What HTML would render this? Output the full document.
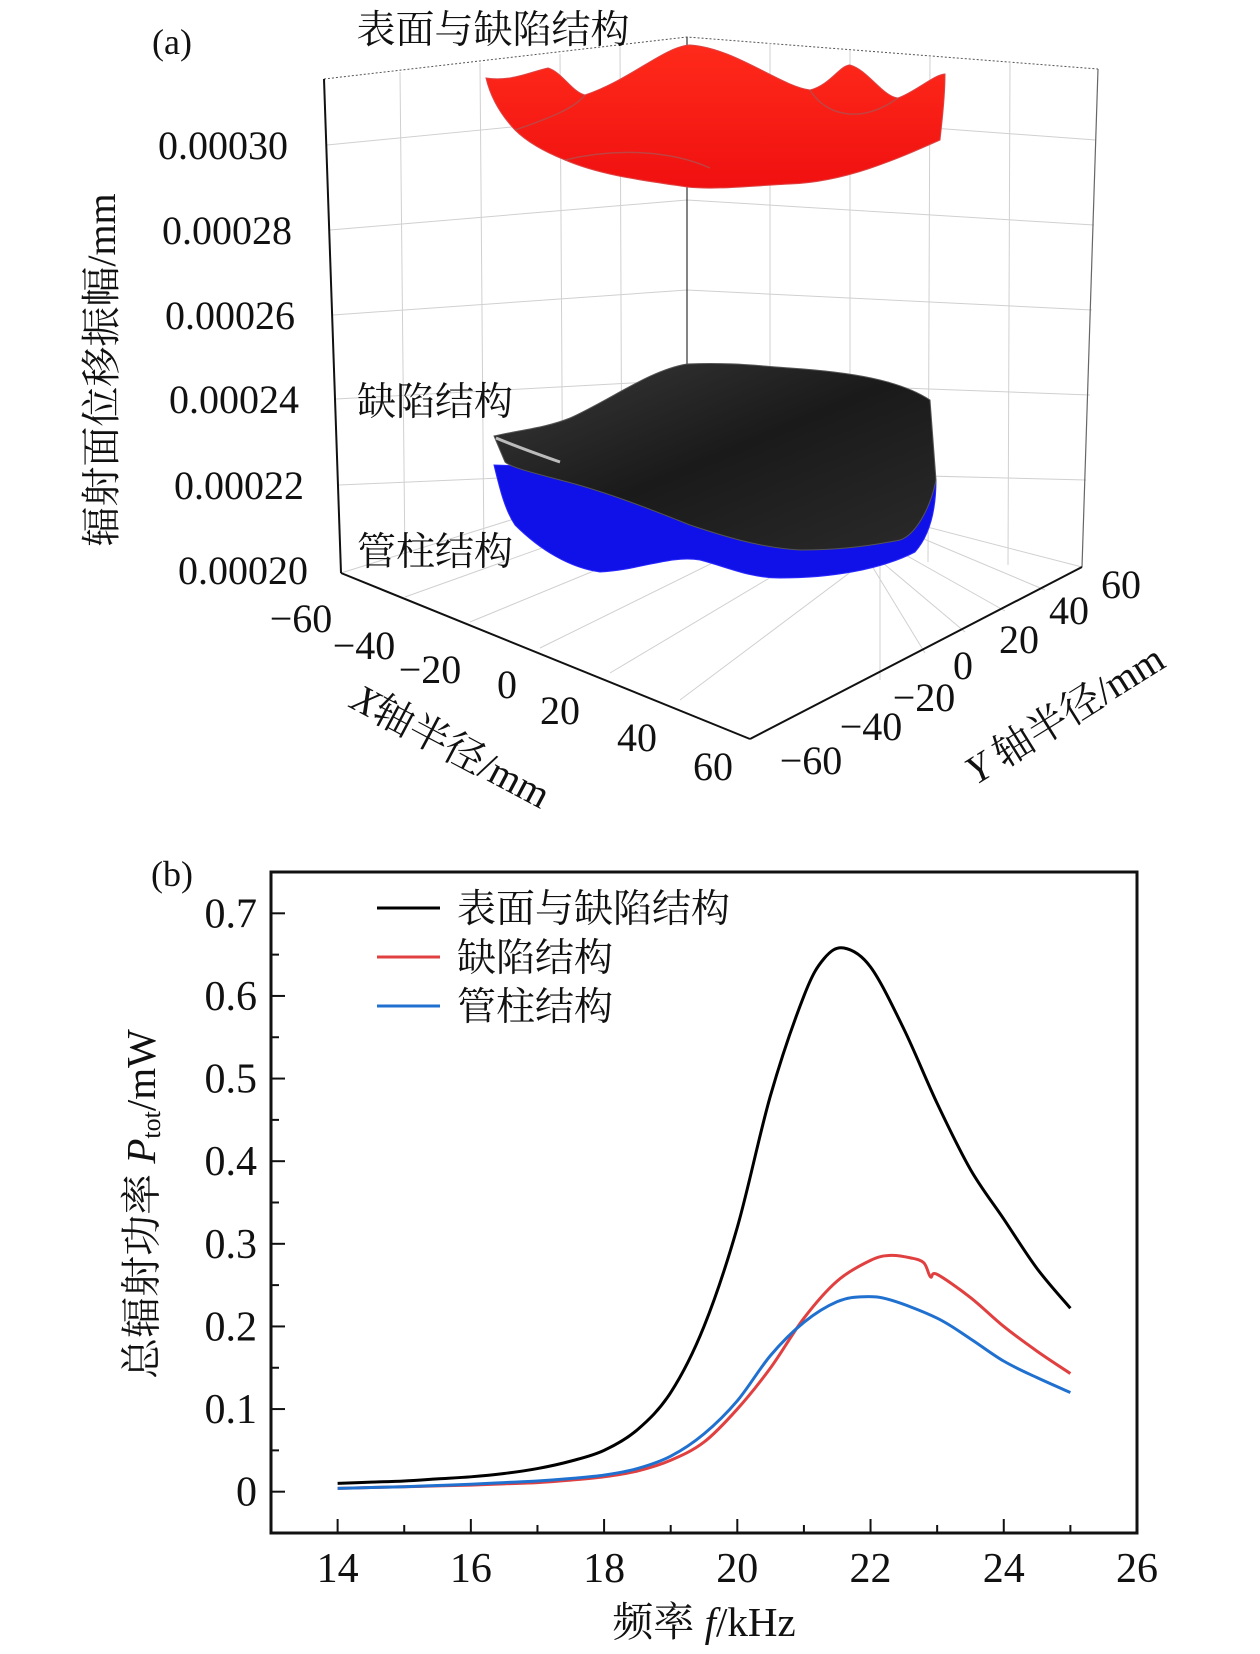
<!DOCTYPE html>
<html><head><meta charset="utf-8">
<style>
html,body{margin:0;padding:0;background:#fff;}
svg{display:block;}
text{font-family:"Liberation Serif","Noto Serif CJK SC",serif;fill:#111;}
.cn{font-family:"Liberation Serif","Noto Serif CJK SC","Noto Sans CJK SC",serif;}
</style></head>
<body>
<svg id="fig" width="1260" height="1654" viewBox="0 0 1260 1654" xmlns="http://www.w3.org/2000/svg">
<defs>
<linearGradient id="gRed" x1="0" y1="0" x2="0" y2="1"><stop offset="0" stop-color="#ff2a1a"/><stop offset="1" stop-color="#f01010"/></linearGradient>
<linearGradient id="gBlk" x1="0" y1="0" x2="1" y2="1"><stop offset="0" stop-color="#3a3a3a"/><stop offset="0.5" stop-color="#1a1a1a"/><stop offset="1" stop-color="#2a2a2a"/></linearGradient>
</defs>
<g id="panel-a">
  <text x="172" y="54" font-size="36" text-anchor="middle">(a)</text>
  <g stroke="#d0d0d0" stroke-width="1" fill="none">
    <path d="M324 79 L687 37 L1098 69" stroke="#555" stroke-dasharray="2,2"/>
    <path d="M327 145 L687 110 L1096 140"/>
    <path d="M330 230 L687 200 L1094 225"/>
    <path d="M333 315 L687 290 L1092 310"/>
    <path d="M336 399 L687 380 L1090 395"/>
    <path d="M339 485 L687 470 L1086 480"/>
    <path d="M400 72 L405 565 M480 63 L484 560 M560 54 L563 555 M620 45 L622 552"/>
    <path d="M770 43 L770 555 M850 50 L850 558 M930 56 L928 562 M1010 62 L1008 565"/>
    <path d="M405 597 L760 470 L1045 590"/>
    <path d="M470 622 L790 490 L1005 611"/>
    <path d="M540 648 L820 510 L965 632"/>
    <path d="M610 673 L850 530 L925 653"/>
    <path d="M680 700 L880 550 L880 680"/>
    <path d="M341 573 L687 465 L1082 567"/>
  </g>
  <line x1="687" y1="37" x2="687" y2="370" stroke="#333" stroke-width="1.2"/>
  <line x1="1098" y1="69" x2="1082" y2="567" stroke="#666" stroke-width="1.2"/>
  <line x1="324" y1="79" x2="341" y2="573" stroke="#111" stroke-width="2"/>
  <line x1="341" y1="573" x2="750" y2="739" stroke="#111" stroke-width="2"/>
  <line x1="750" y1="739" x2="1082" y2="567" stroke="#111" stroke-width="2"/>
  <g font-size="40" text-anchor="middle">
    <text x="223" y="159">0.00030</text>
    <text x="227" y="244">0.00028</text>
    <text x="230" y="329">0.00026</text>
    <text x="234" y="413">0.00024</text>
    <text x="239" y="499">0.00022</text>
    <text x="243" y="584">0.00020</text>
    <text x="301" y="632">−60</text>
    <text x="364" y="659">−40</text>
    <text x="430" y="683">−20</text>
    <text x="507" y="698">0</text>
    <text x="560" y="724">20</text>
    <text x="637" y="751">40</text>
    <text x="713" y="780">60</text>
    <text x="811" y="774">−60</text>
    <text x="871" y="740">−40</text>
    <text x="924" y="711">−20</text>
    <text x="963" y="679">0</text>
    <text x="1019" y="653">20</text>
    <text x="1069" y="624">40</text>
    <text x="1121" y="598">60</text>
  </g>
  <text class="cn" font-size="40" text-anchor="middle" transform="translate(449,750) rotate(28)" dominant-baseline="middle"><tspan font-style="italic">X</tspan>轴半径/mm</text>
  <text class="cn" font-size="40" text-anchor="middle" transform="translate(1067,718) rotate(-32)" dominant-baseline="middle"><tspan font-style="italic">Y</tspan> 轴半径/mm</text>
  <text class="cn" font-size="40" text-anchor="middle" transform="translate(106,370) rotate(-90)" dominant-baseline="middle">辐射面位移振幅/mm</text>
  <path d="M494 465 C500 490 505 510 515 525 C540 550 570 568 600 572 C640 570 670 555 700 560 C730 568 750 578 780 578 C830 578 880 570 915 552 C930 535 936 510 936 480 Z" fill="#1010e8" stroke="#2a2aff" stroke-width="1"/>
  <path d="M494 436 C520 430 545 428 570 418 C610 400 650 370 687 364 C730 362 760 366 790 368 C850 372 900 380 930 400 L936 480 C930 510 915 535 900 540 C860 548 830 550 800 550 C760 548 720 535 690 525 C640 505 600 490 560 480 C530 472 510 467 505 462 Z" fill="url(#gBlk)" stroke="#555" stroke-width="1"/>
  <path d="M496 438 C520 448 540 455 560 462" stroke="#bbb" stroke-width="3" fill="none"/>
  <path d="M486 78 C510 82 530 72 548 68 C562 72 572 92 585 95 C630 80 665 46 690 45 C735 48 780 86 810 90 C830 85 840 65 850 65 C868 70 882 96 898 98 C915 92 935 74 945 74 C945 100 942 120 940 140 C895 160 845 182 790 184 C750 186 715 190 687 187 C640 180 600 175 565 160 C540 150 525 140 515 130 C498 112 490 95 486 78 Z" fill="url(#gRed)" stroke="#d44" stroke-width="1"/>
  <path d="M515 130 C550 118 575 108 585 95 M810 90 C825 115 860 125 898 98 M565 160 C615 148 670 150 710 168" stroke="#a55" stroke-width="1.5" fill="none" opacity="0.7"/>
  <text class="cn" x="493" y="43" font-size="39" text-anchor="middle">表面与缺陷结构</text>
  <text class="cn" x="435" y="415" font-size="39" text-anchor="middle">缺陷结构</text>
  <text class="cn" x="435" y="565" font-size="39" text-anchor="middle">管柱结构</text>
</g>
<g id="panel-b">
  <text x="172" y="886" font-size="36" text-anchor="middle">(b)</text>
  <g id="axes"></g>
  <g id="series"></g>
  <g id="legend"></g>
  <text class="cn" font-size="41" text-anchor="middle" transform="translate(146,1204) rotate(-90)" dominant-baseline="middle">总辐射功率 <tspan font-style="italic">P</tspan><tspan font-size="26" dy="8">tot</tspan><tspan dy="-8">/mW</tspan></text>
  <text class="cn" x="704" y="1636" font-size="41" text-anchor="middle">频率 <tspan font-style="italic">f</tspan>/kHz</text>
</g>
</svg>
<script>
const freqs = [14,14.5,15,15.5,16,16.5,17,17.5,18,18.5,19,19.5,20,20.5,21,21.3,21.6,22,22.5,23,23.5,24,24.5,25];
const blackVals = [0.010,0.0115,0.013,0.0155,0.018,0.022,0.028,0.037,0.050,0.075,0.120,0.200,0.320,0.480,0.600,0.645,0.658,0.635,0.560,0.470,0.390,0.330,0.270,0.222];
const redFreqs = [14,14.5,15,15.5,16,16.5,17,17.5,18,18.5,19,19.5,20,20.5,21,21.5,22,22.3,22.6,22.8,22.9,23,23.5,24,24.5,25];
const redVals = [0.004,0.005,0.006,0.007,0.008,0.0095,0.011,0.014,0.018,0.025,0.038,0.060,0.100,0.150,0.210,0.255,0.280,0.286,0.283,0.277,0.260,0.263,0.235,0.200,0.170,0.143];
const blueFreqs = [14,14.5,15,15.5,16,16.5,17,17.5,18,18.5,19,19.5,20,20.5,21,21.5,21.9,22.3,23,23.5,24,24.5,25];
const blueVals = [0.004,0.005,0.006,0.0075,0.009,0.011,0.013,0.016,0.020,0.028,0.043,0.070,0.110,0.165,0.205,0.230,0.236,0.232,0.210,0.185,0.158,0.138,0.120];
const xTicks = [14,16,18,20,22,24,26];
const yTicks = [0,0.1,0.2,0.3,0.4,0.5,0.6,0.7];
const yTickLabels = ["0","0.1","0.2","0.3","0.4","0.5","0.6","0.7"];
const legendLabels = ["表面与缺陷结构","缺陷结构","管柱结构"];
const colors = ["#000000","#e04040","#2070d0"];

const NS="http://www.w3.org/2000/svg";
const L=271,R=1137,T=872,B=1533;
const xMin=13,xMax=26,yMin=-0.05,yMax=0.75;
const X=v=>L+(v-xMin)/(xMax-xMin)*(R-L);
const Y=v=>B-(v-yMin)/(yMax-yMin)*(B-T);
function mk(tag,attrs,parent){const e=document.createElementNS(NS,tag);for(const k in attrs)e.setAttribute(k,attrs[k]);parent.appendChild(e);return e;}
const axes=document.getElementById('axes');
let fr=mk('rect',{x:L,y:T,width:R-L,height:B-T,fill:'none',stroke:'#111','stroke-width':3},axes);


for(let v=13;v<=26;v+=1){
  const major=xTicks.includes(v);
  let t=mk('line',{x1:X(v),x2:X(v),y1:B,y2:B-(major?14:8),stroke:'#111','stroke-width':2},axes);
  
  
}
xTicks.forEach(v=>{
  let t=mk('text',{x:X(v),y:1582,'font-size':42,'text-anchor':'middle'},axes);t.textContent=v;
  
  
});
for(let i=-1;i<=15;i++){
  const v=i*0.05; if(v<yMin-1e-9||v>yMax+1e-9)continue;
  const major=i%2===0;
  let t=mk('line',{x1:L,x2:L+(major?14:8),y1:Y(v),y2:Y(v),stroke:'#111','stroke-width':2},axes);
  
  
}
yTicks.forEach((v,i)=>{
  let t=mk('text',{x:257,y:Y(v)+14,'font-size':42,'text-anchor':'end'},axes);t.textContent=yTickLabels[i];
  
  
});
function smooth(xs,ys){
  const p=xs.map((x,i)=>[X(x),Y(ys[i])]);
  let d=`M${p[0][0]},${p[0][1]}`;
  for(let i=0;i<p.length-1;i++){
    const p0=p[i-1]||p[i],p1=p[i],p2=p[i+1],p3=p[i+2]||p2;
    const c1=[p1[0]+(p2[0]-p0[0])/6,p1[1]+(p2[1]-p0[1])/6];
    const c2=[p2[0]-(p3[0]-p1[0])/6,p2[1]-(p3[1]-p1[1])/6];
    d+=` C${c1[0]},${c1[1]} ${c2[0]},${c2[1]} ${p2[0]},${p2[1]}`;
  }
  return d;
}
const ser=document.getElementById('series');
const sets=[[freqs,blackVals,'series-surface-defect'],[redFreqs,redVals,'series-defect'],[blueFreqs,blueVals,'series-pipe']];
sets.forEach((s,i)=>{
  let p=mk('path',{d:smooth(s[0],s[1]),fill:'none',stroke:colors[i],'stroke-width':3},ser);
  
  
});
const lg=document.getElementById('legend');
legendLabels.forEach((lab,i)=>{
  const y=908+i*49;
  let l=mk('line',{x1:377,x2:440,y1:y,y2:y,stroke:colors[i],'stroke-width':3},lg);
  
  
  let t=mk('text',{x:457,y:y+14,'font-size':39,class:'cn'},lg);t.textContent=lab;
  
  
});
</script>
</body></html>
